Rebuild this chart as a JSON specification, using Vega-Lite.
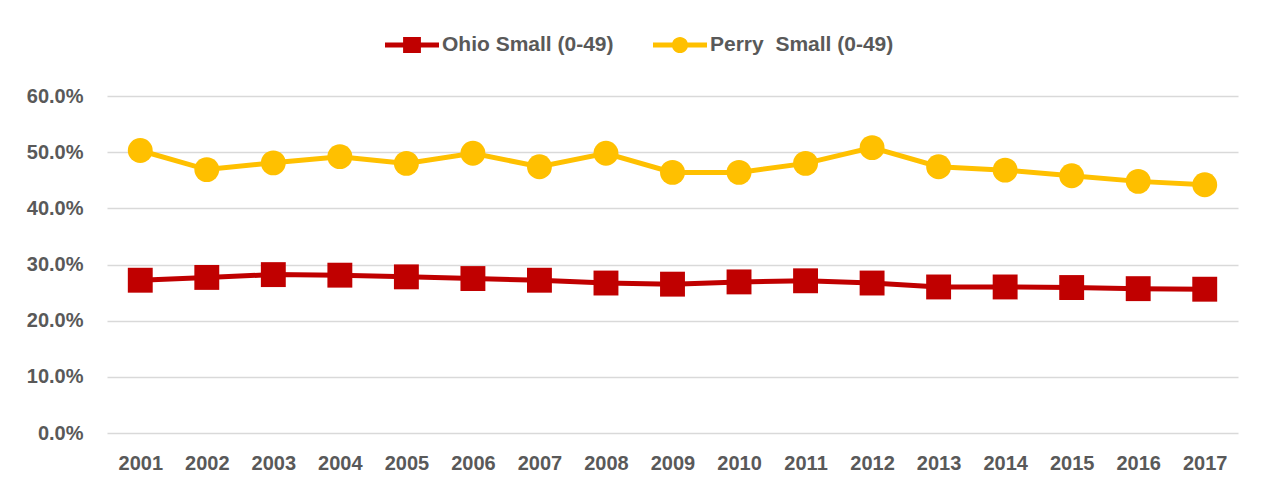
{
  "$schema": "https://vega.github.io/schema/vega-lite/v6.json",
  "width": 1131,
  "height": 337,
  "autosize": {"type": "none"},
  "padding": {"left": 107, "top": 96, "right": 28, "bottom": 58},
  "background": "white",
  "config": {
    "view": {"stroke": null},
    "font": "Liberation Sans"
  },
  "data": {
    "values": [
      {"year": "2001", "series": "Ohio Small (0-49)", "value": 0.272},
      {"year": "2002", "series": "Ohio Small (0-49)", "value": 0.277},
      {"year": "2003", "series": "Ohio Small (0-49)", "value": 0.282},
      {"year": "2004", "series": "Ohio Small (0-49)", "value": 0.281},
      {"year": "2005", "series": "Ohio Small (0-49)", "value": 0.278},
      {"year": "2006", "series": "Ohio Small (0-49)", "value": 0.275},
      {"year": "2007", "series": "Ohio Small (0-49)", "value": 0.272},
      {"year": "2008", "series": "Ohio Small (0-49)", "value": 0.267},
      {"year": "2009", "series": "Ohio Small (0-49)", "value": 0.265},
      {"year": "2010", "series": "Ohio Small (0-49)", "value": 0.269},
      {"year": "2011", "series": "Ohio Small (0-49)", "value": 0.271},
      {"year": "2012", "series": "Ohio Small (0-49)", "value": 0.267},
      {"year": "2013", "series": "Ohio Small (0-49)", "value": 0.260},
      {"year": "2014", "series": "Ohio Small (0-49)", "value": 0.260},
      {"year": "2015", "series": "Ohio Small (0-49)", "value": 0.259},
      {"year": "2016", "series": "Ohio Small (0-49)", "value": 0.257},
      {"year": "2017", "series": "Ohio Small (0-49)", "value": 0.256},
      {"year": "2001", "series": "Perry\u00a0 Small (0-49)", "value": 0.503},
      {"year": "2002", "series": "Perry\u00a0 Small (0-49)", "value": 0.469},
      {"year": "2003", "series": "Perry\u00a0 Small (0-49)", "value": 0.481},
      {"year": "2004", "series": "Perry\u00a0 Small (0-49)", "value": 0.492},
      {"year": "2005", "series": "Perry\u00a0 Small (0-49)", "value": 0.480},
      {"year": "2006", "series": "Perry\u00a0 Small (0-49)", "value": 0.498},
      {"year": "2007", "series": "Perry\u00a0 Small (0-49)", "value": 0.474},
      {"year": "2008", "series": "Perry\u00a0 Small (0-49)", "value": 0.498},
      {"year": "2009", "series": "Perry\u00a0 Small (0-49)", "value": 0.464},
      {"year": "2010", "series": "Perry\u00a0 Small (0-49)", "value": 0.464},
      {"year": "2011", "series": "Perry\u00a0 Small (0-49)", "value": 0.480},
      {"year": "2012", "series": "Perry\u00a0 Small (0-49)", "value": 0.508},
      {"year": "2013", "series": "Perry\u00a0 Small (0-49)", "value": 0.474},
      {"year": "2014", "series": "Perry\u00a0 Small (0-49)", "value": 0.468},
      {"year": "2015", "series": "Perry\u00a0 Small (0-49)", "value": 0.458},
      {"year": "2016", "series": "Perry\u00a0 Small (0-49)", "value": 0.448},
      {"year": "2017", "series": "Perry\u00a0 Small (0-49)", "value": 0.442}
    ]
  },
  "encoding": {
    "x": {
      "field": "year",
      "type": "ordinal",
      "scale": {"type": "point", "padding": 0.5},
      "axis": {
        "title": null,
        "labelAngle": 0,
        "ticks": false,
        "domain": false,
        "grid": false,
        "labelFont": "Liberation Sans",
        "labelFontWeight": "bold",
        "labelFontSize": 20,
        "labelColor": "#595959",
        "labelPadding": 20
      }
    },
    "y": {
      "field": "value",
      "type": "quantitative",
      "scale": {"domain": [0, 0.6], "nice": false},
      "axis": {
        "title": null,
        "format": ".1%",
        "values": [0, 0.1, 0.2, 0.3, 0.4, 0.5, 0.6],
        "ticks": false,
        "domain": false,
        "grid": true,
        "gridColor": "#d9d9d9",
        "gridWidth": 1.5,
        "labelFont": "Liberation Sans",
        "labelFontWeight": "bold",
        "labelFontSize": 20,
        "labelColor": "#595959",
        "labelPadding": 24
      }
    },
    "color": {
      "field": "series",
      "type": "nominal",
      "scale": {
        "domain": ["Ohio Small (0-49)", "Perry\u00a0 Small (0-49)"],
        "range": ["#C00000", "#FFC000"]
      },
      "legend": {
        "title": null,
        "orient": "none",
        "direction": "horizontal",
        "legendX": 278,
        "legendY": -78,
        "columns": 2,
        "columnPadding": 39,
        "labelFont": "Liberation Sans",
        "labelFontWeight": "bold",
        "labelFontSize": 21,
        "labelColor": "#595959",
        "labelOffset": 3,
        "labelLimit": 400,
        "symbolSize": 2916,
        "symbolStrokeWidth": 0,
        "symbolOpacity": 1,
        "encode": {
          "symbols": {
            "update": {
              "shape": {"signal": "indexof(datum.value, 'Ohio') === 0 ? 'M-1,-0.09 L1,-0.09 L1,0.09 L-1,0.09 Z M-0.33,-0.3 L0.33,-0.3 L0.33,0.3 L-0.33,0.3 Z' : 'M-1,-0.09 L1,-0.09 L1,0.09 L-1,0.09 Z M-0.3,0 A0.3,0.3 0 1,1 0.3,0 A0.3,0.3 0 1,1 -0.3,0 Z'"},
              "fillOpacity": {"value": 1},
              "strokeWidth": {"value": 0}
            }
          }
        }
      }
    }
  },
  "layer": [
    {
      "mark": {"type": "line", "strokeWidth": 5}
    },
    {
      "transform": [{"filter": "indexof(datum.series, 'Ohio') === 0"}],
      "mark": {"type": "point", "filled": true, "opacity": 1, "size": 620, "shape": "square"}
    },
    {
      "transform": [{"filter": "indexof(datum.series, 'Perry') === 0"}],
      "mark": {"type": "point", "filled": true, "opacity": 1, "size": 620, "shape": "circle"}
    }
  ]
}
